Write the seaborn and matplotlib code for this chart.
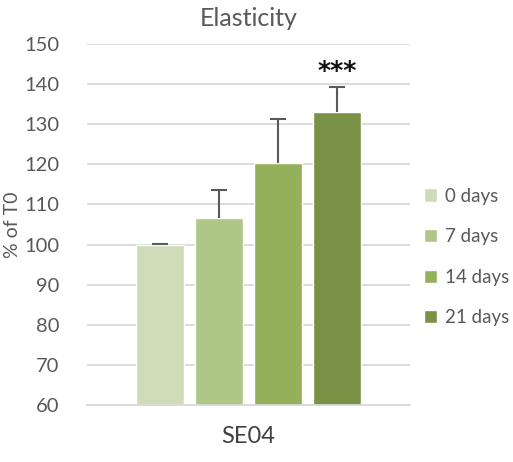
import matplotlib
matplotlib.use("Agg")
import matplotlib.pyplot as plt
import seaborn as sns
import pandas as pd

# Elasticity data (% of T0) for sample SE04
sample = ["SE04"]
timepoints = ["0 days", "7 days", "14 days", "21 days"]
means = [100.0, 106.7, 120.4, 133.1]
errors = [0.2, 7.0, 11.0, 6.1]
significance = ["", "", "", "***"]
palette = ["#CFDBB9", "#AEC686", "#95B05A", "#7A9245"]

sns.set_theme(style="white")
plt.rcParams["font.family"] = ["Lato", "DejaVu Sans"]

df = pd.DataFrame({"sample": sample * len(timepoints), "time": timepoints, "value": means})

fig = plt.figure(figsize=(5.13, 4.62), dpi=100)
ax = fig.add_axes([87 / 513, 1 - 405 / 462, (410 - 87) / 513, (405 - 44) / 462])

sns.barplot(data=df, x="sample", y="value", hue="time", hue_order=timepoints,
            palette=palette, width=0.73, gap=0.2, errorbar=None, ax=ax,
            saturation=1, legend=True)

ax.set_xlim(-0.5, 0.5)
ax.set_ylim(60, 150)
ax.set_yticks(range(60, 151, 10))
ax.yaxis.grid(True, color="#D9D9D9", linewidth=1.3)
ax.set_axisbelow(True)
for s in ["top", "right", "left"]:
    ax.spines[s].set_visible(False)
ax.spines["bottom"].set_color("#D9D9D9")
ax.spines["bottom"].set_linewidth(1.3)
ax.tick_params(axis="y", length=0, pad=20, labelsize=14.5, labelcolor="#595959")
ax.tick_params(axis="x", length=0, pad=15, labelsize=17, labelcolor="#404040")
ax.set_xlabel("")
ax.set_ylabel("% of T0", fontsize=14, color="#595959", labelpad=2)
ax.set_title("Elasticity", fontsize=18, color="#595959", pad=13)

# upper error bars and significance marks
bars = [p for p in ax.patches if p.get_height() > 0][:len(means)]
for bar, m, e, sig in zip(bars, means, errors, significance):
    cx = bar.get_x() + bar.get_width() / 2
    _, caps, _ = ax.errorbar(cx, m, yerr=[[0], [e]], fmt="none", ecolor="#595959",
                             elinewidth=1.5, capsize=5.5, capthick=1.5)
    caps[0].set_visible(False)
    if sig:
        ax.text(cx, m + e + 1.2, sig, ha="center", va="bottom", fontsize=18,
                fontweight="bold", family="DejaVu Sans", color="#111111")

leg = ax.legend(loc="center left", bbox_to_anchor=(1.02, 0.41), frameon=False,
                fontsize=13.5, handlelength=0.7, handleheight=0.7, handletextpad=0.4,
                labelspacing=1.26, borderaxespad=0)
for t in leg.get_texts():
    t.set_color("#595959")

fig.savefig("out.png", dpi=100)
